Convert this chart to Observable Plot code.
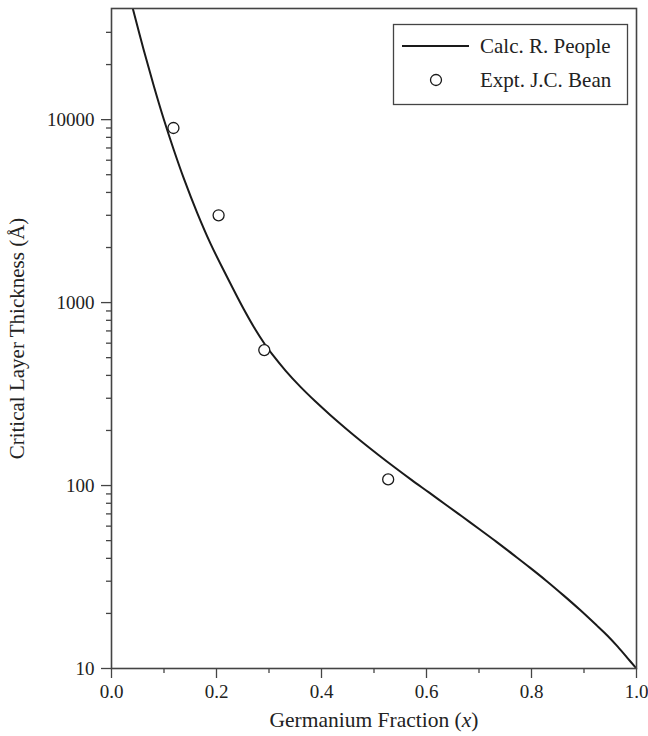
<!DOCTYPE html>
<html><head><meta charset="utf-8">
<script src="https://cdn.jsdelivr.net/npm/d3@7"></script>
<script src="https://cdn.jsdelivr.net/npm/@observablehq/plot@0.6"></script>
<style>body{margin:0;background:#fff}</style>
</head><body><div id="chart"></div>
<script>
// Calculated critical layer thickness (R. People)
const calcX = [0.035, 0.0413, 0.0615, 0.0806, 0.0996, 0.1187, 0.1377, 0.1632, 0.1886, 0.2204, 0.2520, 0.2743, 0.2914, 0.3067, 0.3314, 0.3600, 0.3886, 0.4171, 0.4457, 0.4762, 0.5086, 0.5404, 0.5714, 0.6046, 0.6362, 0.6686, 0.7010, 0.7328, 0.7638, 0.7970, 0.8286, 0.8610, 0.8933, 0.9251, 0.9448, 0.9638, 0.9829, 1.0];
const calcY = [47000, 39770, 23950, 15260, 10040, 6823, 4772, 3095, 2101, 1375, 919, 710, 596, 519, 425, 346, 287.7, 242.4, 205.9, 174.2, 147, 125.1, 107.4, 91.7, 78.8, 67.5, 57.7, 49.4, 42.2, 35.6, 30.1, 25.1, 20.8, 17.1, 15.1, 13.2, 11.4, 10];
// Experimental points (J.C. Bean)
const exptX = [0.118, 0.204, 0.291, 0.527];
const exptY = [9000, 3000, 550, 108];
// Series names
const seriesNames = ["Calc. R. People", "Expt. J.C. Bean"];
// Ticks
const xMajor = [0, 0.2, 0.4, 0.6, 0.8, 1.0];
const xMinor = [0.1, 0.3, 0.5, 0.7, 0.9];
const yMajor = [10, 100, 1000, 10000];
const yMinor = [20,30,40,50,60,70,80,90,200,300,400,500,600,700,800,900,2000,3000,4000,5000,6000,7000,8000,9000,20000,30000];
const xLabel = "Germanium Fraction (x)";
const yLabel = "Critical Layer Thickness (Å)";

const calc = calcX.map((x, i) => ({x, y: calcY[i]}));
const expt = exptX.map((x, i) => ({x, y: exptY[i]}));

const FONT = "'Liberation Serif', 'DejaVu Serif', serif";
const INK = "#222";
const AX = "#444";

const chart = Plot.plot({
  width: 648,
  height: 736,
  marginLeft: 111,
  marginRight: 12,
  marginTop: 8,
  marginBottom: 68,
  style: {fontFamily: FONT, fontSize: "19px", color: INK, background: "white", overflow: "visible"},
  x: {domain: [0, 1]},
  y: {type: "log", domain: [10, 40500]},
  marks: [
    Plot.axisX(xMinor, {tickSize: 5, tickFormat: () => "", stroke: AX, strokeWidth: 1.3, label: null}),
    Plot.axisX(xMajor, {tickSize: 10, tickPadding: 6, tickFormat: d3.format(".1f"), stroke: AX, strokeWidth: 1.3, fill: INK, fontSize: 19,
      label: xLabel, labelAnchor: "center", labelArrow: "none", labelOffset: 58}),
    Plot.axisY(yMinor, {tickSize: 5, tickFormat: () => "", stroke: AX, strokeWidth: 1.3, label: null}),
    Plot.axisY(yMajor, {tickSize: 10, tickPadding: 7, tickFormat: d3.format("d"), stroke: AX, strokeWidth: 1.3, fill: INK, fontSize: 19,
      label: yLabel, labelAnchor: "center", labelArrow: "none", labelOffset: 102}),
    Plot.line(calc, {x: "x", y: "y", stroke: "#1a1a1a", strokeWidth: 2, curve: "catmull-rom", clip: true}),
    Plot.dot(expt, {x: "x", y: "y", r: 5.5, stroke: "#1a1a1a", strokeWidth: 1.3, fill: "white"}),
    Plot.frame({stroke: AX, strokeWidth: 1.6})
  ]
});

document.getElementById("chart").appendChild(chart);

const svg = d3.select(chart);
// axis titles: larger font, italic (x)
svg.selectAll("text").each(function() {
  const t = d3.select(this);
  const s = t.text();
  if (s === xLabel) {
    t.attr("font-size", 21.5);
    t.text(null);
    t.append("tspan").text("Germanium Fraction (");
    t.append("tspan").attr("font-style", "italic").text("x");
    t.append("tspan").text(")");
  } else if (s === yLabel) {
    t.attr("font-size", 21);
  }
});

// Legend box inside the plot
const lg = svg.append("g").attr("font-family", FONT).attr("font-size", 21)
  .attr("fill", INK).attr("text-anchor", "start");
lg.append("rect").attr("x", 393.5).attr("y", 24.5).attr("width", 234).attr("height", 80)
  .attr("fill", "white").attr("stroke", AX).attr("stroke-width", 1.3);
lg.append("line").attr("x1", 402).attr("x2", 469).attr("y1", 46).attr("y2", 46)
  .attr("stroke", "#1a1a1a").attr("stroke-width", 2);
lg.append("text").attr("x", 480).attr("y", 46).attr("dy", "0.35em").text(seriesNames[0]);
lg.append("circle").attr("cx", 436).attr("cy", 80).attr("r", 5.5)
  .attr("fill", "white").attr("stroke", "#1a1a1a").attr("stroke-width", 1.3);
lg.append("text").attr("x", 480).attr("y", 80).attr("dy", "0.35em").text(seriesNames[1]);
</script>
</body></html>
